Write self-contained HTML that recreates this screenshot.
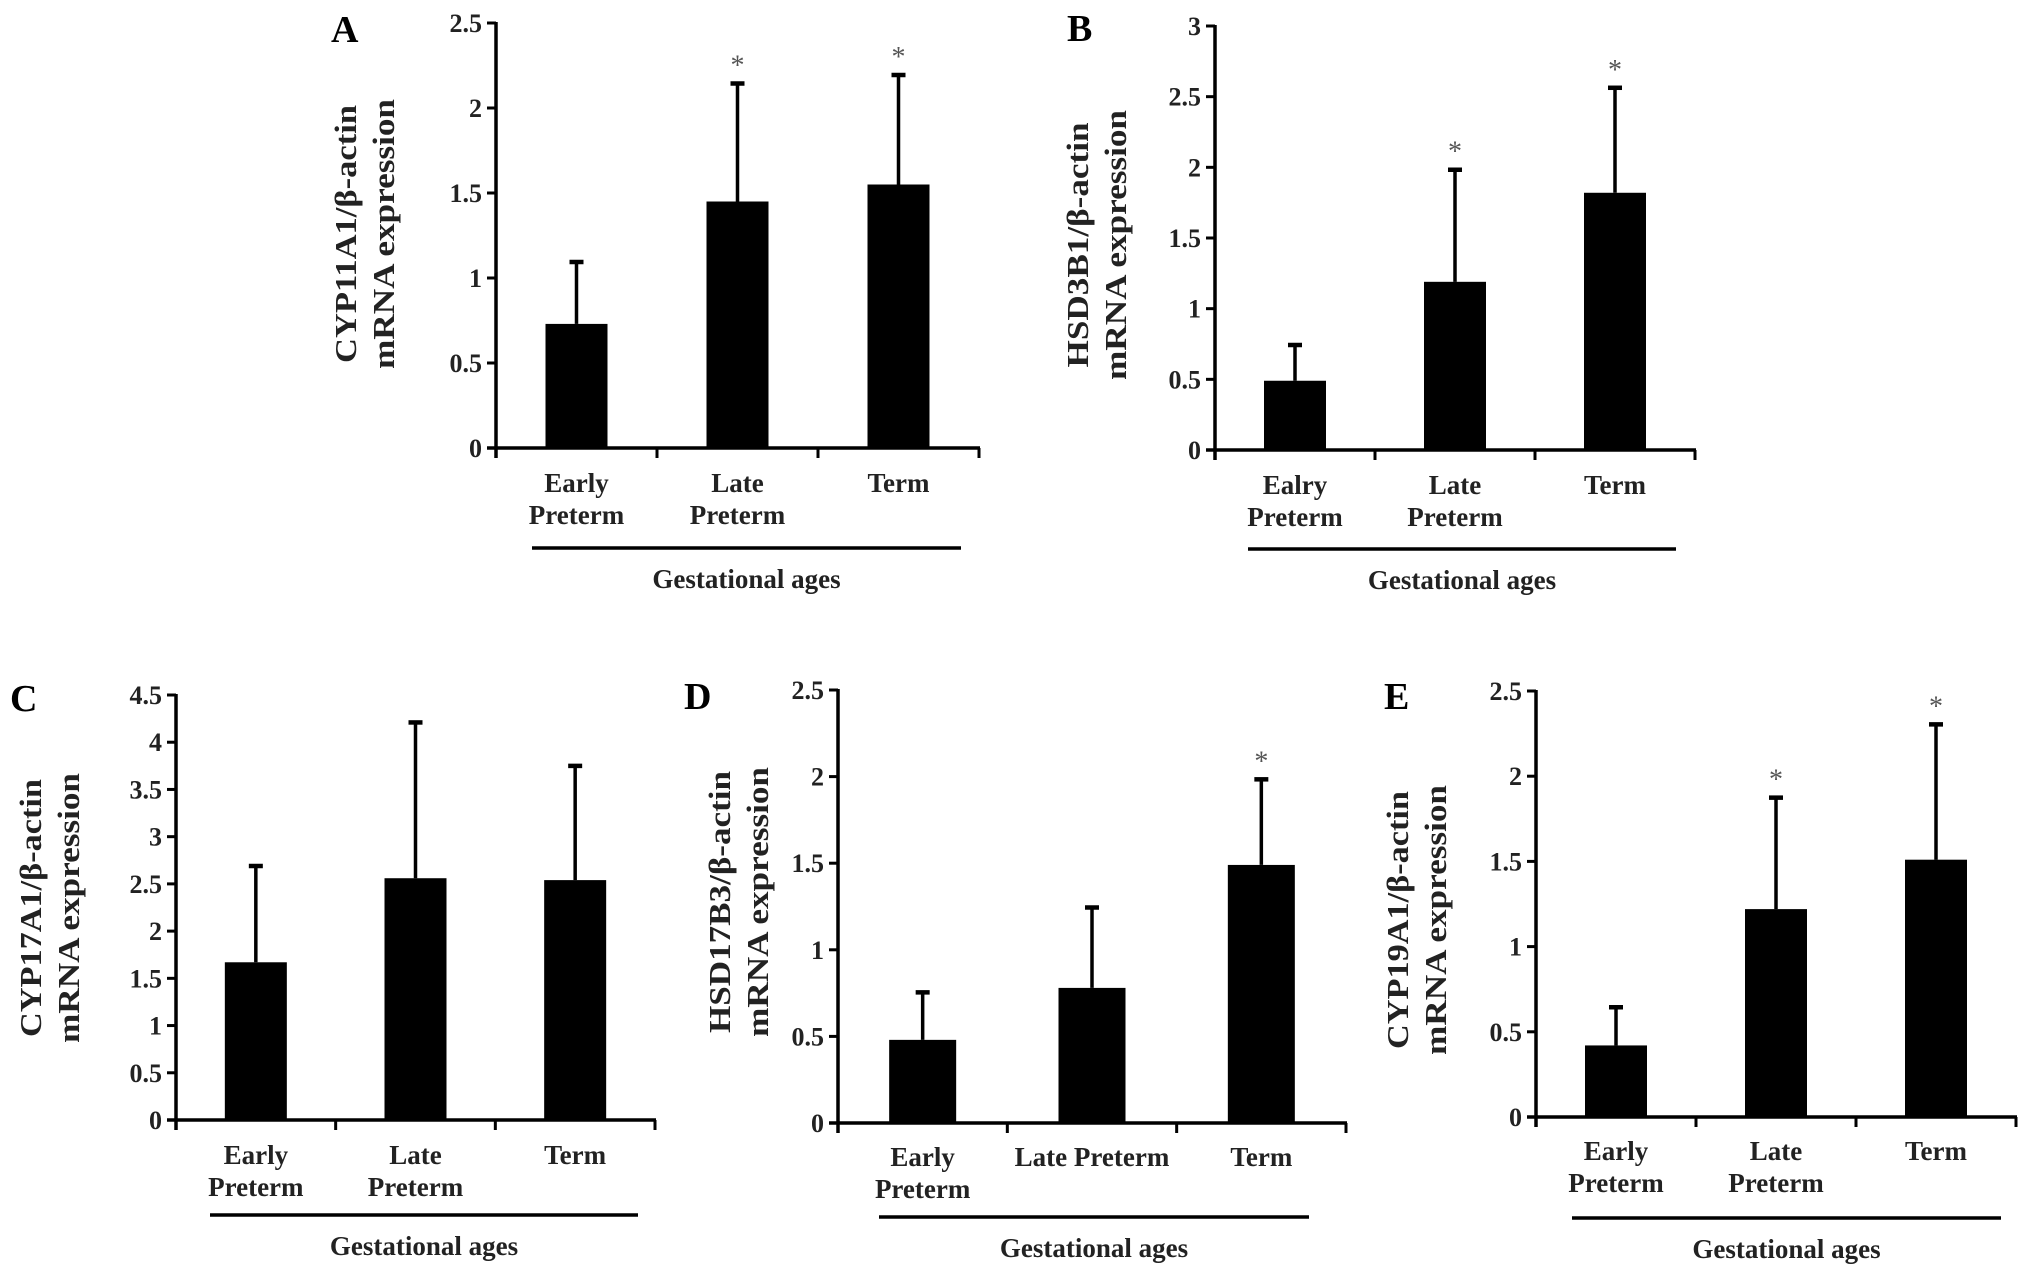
<!DOCTYPE html>
<html><head><meta charset="utf-8"><style>
html,body{margin:0;padding:0;background:#fff;overflow:hidden;}
svg{display:block;font-family:"Liberation Serif",serif;}
</style></head><body>
<svg id="fig" width="2031" height="1277" viewBox="0 0 2031 1277" xmlns="http://www.w3.org/2000/svg"></svg>
<script>
// ---- data ----
const categoriesA = ["Early|Preterm","Late|Preterm","Term"];
const meansA = [0.73,1.45,1.55];
const errTopA = [1.10,2.15,2.20];
const starsA = [false,true,true];
const ticksA = ["0","0.5","1","1.5","2","2.5"];

const categoriesB = ["Ealry|Preterm","Late|Preterm","Term"];
const meansB = [0.49,1.19,1.82];
const errTopB = [0.75,1.99,2.57];
const starsB = [false,true,true];
const ticksB = ["0","0.5","1","1.5","2","2.5","3"];

const categoriesC = ["Early|Preterm","Late|Preterm","Term"];
const meansC = [1.67,2.56,2.54];
const errTopC = [2.70,4.22,3.76];
const starsC = [false,false,false];
const ticksC = ["0","0.5","1","1.5","2","2.5","3","3.5","4","4.5"];

const categoriesD = ["Early|Preterm","Late Preterm","Term"];
const meansD = [0.48,0.78,1.49];
const errTopD = [0.76,1.25,1.99];
const starsD = [false,false,true];
const ticksD = ["0","0.5","1","1.5","2","2.5"];

const categoriesE = ["Early|Preterm","Late|Preterm","Term"];
const meansE = [0.42,1.22,1.51];
const errTopE = [0.65,1.88,2.31];
const starsE = [false,true,true];
const ticksE = ["0","0.5","1","1.5","2","2.5"];

const NS="http://www.w3.org/2000/svg";
const svg=document.getElementById('fig');
function mk(tag,attrs,parent,text){const e=document.createElementNS(NS,tag);for(const k in attrs)e.setAttribute(k,attrs[k]);if(text!==undefined)e.textContent=text;(parent||svg).appendChild(e);return e;}

function panel(p){
  const g=mk('g',{});
  
  
  const maxV=parseFloat(p.ticks[p.ticks.length-1]);
  const y=v=>p.y0-(v/maxV)*(p.y0-p.yTop);
  const cw=(p.xEnd-p.x0)/p.cats.length;
  const xc=i=>p.x0+cw*(i+0.5);
  const L=mk('text',{x:p.lx,y:p.ly,'font-size':38,'font-weight':'bold'},g,p.letter);
  
  
  const t=mk('text',{transform:`translate(${p.tx},${p.ty}) rotate(-90)`,'font-size':31,'font-weight':'bold','text-anchor':'middle',fill:'#222'},g);
  
  
  mk('tspan',{x:0,dy:0,textLength:p.tl1,lengthAdjust:'spacingAndGlyphs'},t,p.title);
  mk('tspan',{x:0,dy:38,textLength:p.tl2,lengthAdjust:'spacingAndGlyphs'},t,'mRNA expression');
  p.means.forEach((m,i)=>{
    const bx=xc(i)-p.bw/2;
    const r=mk('rect',{x:bx,y:y(m),width:p.bw,height:p.y0-y(m),fill:'#000'},g);
    
    
    const cx=bx+p.bw/2;
    const el=mk('line',{x1:cx,x2:cx,y1:y(m),y2:y(p.err[i]),stroke:'#000','stroke-width':3.5},g);
    
    
    mk('line',{x1:cx-7,x2:cx+7,y1:y(p.err[i])+1,y2:y(p.err[i])+1,stroke:'#000','stroke-width':4.5},g);
    if(p.stars[i]){
      const s=mk('text',{x:cx,y:y(p.err[i])-8,'font-size':28,'text-anchor':'middle',fill:'#555'},g,'*');
      
      
    }
  });
  const ya=mk('line',{x1:p.x0,x2:p.x0,y1:p.yTop-1,y2:p.y0+10,stroke:'#000','stroke-width':3.5},g);
  
  
  const xa=mk('line',{x1:p.x0-9,x2:p.xEnd+1,y1:p.y0,y2:p.y0,stroke:'#000','stroke-width':3.5},g);
  
  
  p.ticks.forEach(tk=>{
    const v=parseFloat(tk);
    mk('line',{x1:p.x0-9,x2:p.x0,y1:y(v),y2:y(v),stroke:'#000','stroke-width':3},g);
    const tl=mk('text',{x:p.x0-14,y:y(v)+9,'font-size':26,'font-weight':'bold','text-anchor':'end',fill:'#222'},g,tk);
    
    
  });
  for(let i=0;i<=p.cats.length;i++){
    const xx=p.x0+cw*i;
    mk('line',{x1:xx,x2:xx,y1:p.y0,y2:p.y0+10,stroke:'#000','stroke-width':3},g);
  }
  p.cats.forEach((c,i)=>{
    const parts=c.split('|');
    parts.forEach((pt,j)=>{
      const cl=mk('text',{x:xc(i),y:p.cy+j*32,'font-size':27,'font-weight':'bold','text-anchor':'middle',fill:'#222'},g,pt);
      
      
    });
  });
  const gl=mk('line',{x1:p.gx1,x2:p.gx2,y1:p.gy,y2:p.gy,stroke:'#000','stroke-width':3.5},g);
  
  
  const gt=mk('text',{x:(p.gx1+p.gx2)/2,y:p.gy+40,'font-size':27,'font-weight':'bold','text-anchor':'middle',fill:'#222'},g,'Gestational ages');
  
  
}

panel({letter:'A',title:'CYP11A1/\u03b2-actin',cats:categoriesA,means:meansA,err:errTopA,stars:starsA,ticks:ticksA,
  x0:496,xEnd:979,yTop:23,y0:448,bw:62,lx:331,ly:42,tx:356,ty:234,tl1:258,tl2:270,cy:492,gx1:532,gx2:961,gy:548});
panel({letter:'B',title:'HSD3B1/\u03b2-actin',cats:categoriesB,means:meansB,err:errTopB,stars:starsB,ticks:ticksB,
  x0:1215,xEnd:1695,yTop:26,y0:450,bw:62,lx:1067,ly:41,tx:1088,ty:245,tl1:245,tl2:270,cy:494,gx1:1248,gx2:1676,gy:549});
panel({letter:'C',title:'CYP17A1/\u03b2-actin',cats:categoriesC,means:meansC,err:errTopC,stars:starsC,ticks:ticksC,
  x0:176,xEnd:655,yTop:695,y0:1120,bw:62,lx:10,ly:711,tx:41,ty:908,tl1:258,tl2:270,cy:1164,gx1:210,gx2:638,gy:1215});
panel({letter:'D',title:'HSD17B3/\u03b2-actin',cats:categoriesD,means:meansD,err:errTopD,stars:starsD,ticks:ticksD,
  x0:838,xEnd:1346,yTop:690,y0:1123,bw:67,lx:684,ly:709,tx:730,ty:902,tl1:262,tl2:270,cy:1166,gx1:879,gx2:1309,gy:1217});
panel({letter:'E',title:'CYP19A1/\u03b2-actin',cats:categoriesE,means:meansE,err:errTopE,stars:starsE,ticks:ticksE,
  x0:1536,xEnd:2016,yTop:691,y0:1117,bw:62,lx:1384,ly:709,tx:1408,ty:920,tl1:258,tl2:270,cy:1160,gx1:1572,gx2:2001,gy:1218});
</script>
</body></html>
